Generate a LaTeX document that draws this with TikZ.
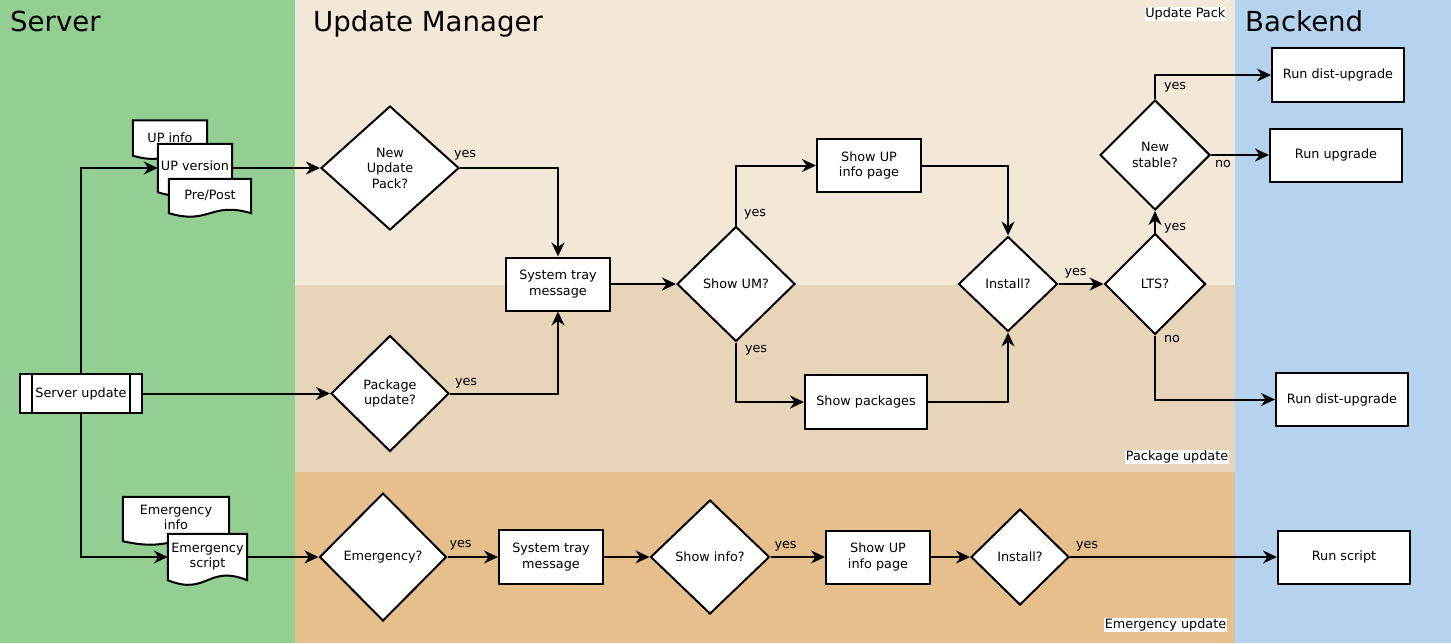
\documentclass[tikz,border=0pt]{standalone}
\usepackage{fontspec}
\setmainfont{DejaVu Sans}
\usetikzlibrary{shapes.geometric,arrows.meta,calc}
\pgfdeclarelayer{bg}
\pgfdeclarelayer{docs}
\pgfsetlayers{bg,docs,main}
\definecolor{cserver}{HTML}{93CF93}
\definecolor{cpack}{HTML}{F3E7D7}
\definecolor{cpkg}{HTML}{E8D4B8}
\definecolor{cemer}{HTML}{E7BF8C}
\definecolor{cback}{HTML}{B5D3EE}
\newcommand\nfont{\fontsize{12.8}{15.5}\selectfont}
\newcommand\tfont{\fontsize{27.6}{32}\selectfont}
\newcommand\docshape[2]{%
  \begin{pgfonlayer}{docs}
  \filldraw[fill=white, line width=2pt] (#1.north west) -- (#1.north east) -- (#1.south east)
    .. controls ($(#1.south)+(0,-#2)$) and ($(#1.south)+(0,#2)$) .. (#1.south west) -- cycle;
  \end{pgfonlayer}}
\newcommand\tl[2]{\begin{tabular}{@{}c@{}}#1\\#2\end{tabular}}
\begin{document}
\begin{tikzpicture}[x=1pt,y=-1pt,
  box/.style={draw, fill=white, line width=2pt, align=center, inner sep=1pt, font=\nfont},
  rbox/.style 2 args={box, minimum width=#1pt, minimum height=#2pt},
  dia/.style 2 args={shape=diamond, draw, fill=white, line width=2pt, minimum width=#1pt,
    minimum height=#2pt, inner sep=0pt, align=center, font=\nfont},
  docbox/.style 2 args={minimum width=#1pt, minimum height=#2pt, inner sep=0pt, align=center, font=\nfont},
  sproc/.style={box, minimum width=122pt, minimum height=39pt,
    path picture={
      \draw[line width=2pt] ([xshift=12pt]path picture bounding box.north west) -- ([xshift=12pt]path picture bounding box.south west);
      \draw[line width=2pt] ([xshift=-12pt]path picture bounding box.north east) -- ([xshift=-12pt]path picture bounding box.south east);}},
  arr/.style={line width=2pt, -{Stealth[length=14pt,width=13pt,inset=4.5pt]}},
  lbl/.style={font=\nfont, inner sep=0pt, anchor=base west},
  reglbl/.style={font=\nfont, fill=white, inner sep=0.6pt, anchor=north east},
  title/.style={font=\tfont, inner sep=0pt, anchor=base west}]
\useasboundingbox (0,0) rectangle (1451,643);
\begin{pgfonlayer}{bg}
  \fill[cserver] (0,0) rectangle (295,643);
  \fill[cpack] (295,0) rectangle (1235,285);
  \fill[cpkg] (295,285) rectangle (1235,472);
  \fill[cemer] (295,472) rectangle (1235,643);
  \fill[cback] (1235,0) rectangle (1451,643);
\end{pgfonlayer}

% titles and region labels
\node[title] (tserver) at (10,31) {Server};
\node[title] (tum) at (313,31) {Update Manager};
\node[title] (tback) at (1245,31.5) {Backend};
\node[reglbl] (lpack) at (1226,7) {Update Pack};
\node[reglbl] (lpkg) at (1229,450) {Package update};
\node[reglbl] (lemer) at (1227,618) {Emergency update};

% server column
\node[docbox={74}{35}] (upinfo) at (170,138) {\raisebox{1pt}{UP info}};
\docshape{upinfo}{11}
\node[docbox={74}{48}] (upver) at (195,168) {\raisebox{5pt}{UP version}};
\docshape{upver}{12}
\node[docbox={82}{34}] (prepost) at (210,196) {\raisebox{2pt}{Pre/Post}};
\docshape{prepost}{12}
\node[sproc] (su) at (81,393.5) {Server update};
\node[docbox={106}{44}] (eminfo) at (176,519) {\raisebox{4pt}{\tl{Emergency}{info}}};
\docshape{eminfo}{12}
\node[docbox={79}{46}] (emscript) at (207.5,557) {\raisebox{4pt}{\tl{Emergency}{script}}};
\docshape{emscript}{16}

% update manager
\node[dia={138}{124}] (nup) at (390,168) {New\\Update\\Pack?};
\node[dia={118}{116}] (pu) at (390,393.5) {Package\\update?};
\node[dia={127}{128}] (em) at (383,557) {Emergency?};
\node[rbox={104}{53}] (stm1) at (558,284) {System tray\\message};
\node[dia={118}{115}] (sum) at (736,284) {Show UM?};
\node[rbox={104}{53}] (suip1) at (869,165.5) {Show UP\\info page};
\node[rbox={122}{54}] (sp) at (866,402) {Show packages};
\node[dia={99}{95}] (i1) at (1008,284) {Install?};
\node[dia={101}{101}] (lts) at (1155,284) {LTS?};
\node[dia={110}{110}] (ns) at (1155,155) {New\\stable?};
\node[rbox={104}{54}] (stm2) at (551,557) {System tray\\message};
\node[dia={119}{114}] (si) at (710,557) {Show info?};
\node[rbox={104}{53}] (suip2) at (878,557) {Show UP\\info page};
\node[dia={98}{96}] (i2) at (1020,557) {Install?};

% backend
\node[rbox={132}{54}] (rdu1) at (1338,75) {Run dist-upgrade};
\node[rbox={132}{53}] (ru) at (1336,155) {Run upgrade};
\node[rbox={132}{53}] (rdu2) at (1342,399.5) {Run dist-upgrade};
\node[rbox={132}{53}] (rs) at (1344,557) {Run script};

% connectors
\draw[arr] (su.north) |- (upver.west);
\draw[arr] (upver.east) -- (nup.west);
\draw[arr] (su.east) -- (pu.west);
\draw[arr] (su.south) |- (emscript.west);
\draw[arr] (emscript.east) -- (em.west);
\draw[arr] (nup.east) -| node[lbl, pos=0, xshift=-7pt, yshift=11pt] (y1) {yes} (stm1.north);
\draw[arr] (pu.east) -| node[lbl, pos=0, xshift=4pt, yshift=8pt] (y2) {yes} (stm1.south);
\draw[arr] (stm1.east) -- (sum.west);
\draw[arr] (sum.north) |- node[lbl, pos=0, xshift=7pt, yshift=9pt] (y3) {yes} (suip1.west);
\draw[arr] (sum.south) |- node[lbl, pos=0, xshift=8pt, yshift=-10pt] (y4) {yes} (sp.west);
\draw[arr] (suip1.east) -| (i1.north);
\draw[arr] (sp.east) -| (i1.south);
\draw[arr] (i1.east) -- node[lbl, pos=0, xshift=5pt, yshift=9pt] (y5) {yes} (lts.west);
\draw[arr] (lts.north) -- node[lbl, pos=0, xshift=8pt, yshift=2pt] (y6) {yes} (ns.south);
\draw[arr] (ns.north) |- node[lbl, pos=0, xshift=8pt, yshift=10pt] (y7) {yes} (rdu1.west);
\draw[arr] (ns.east) -- node[lbl, pos=0, xshift=3pt, yshift=-12pt] (n1) {no} (ru.west);
\draw[arr] (lts.south) |- node[lbl, pos=0, xshift=8pt, yshift=-7pt] (n2) {no} (rdu2.west);
\draw[arr] (em.east) -- node[lbl, pos=0, xshift=1pt, yshift=10pt] (y8) {yes} (stm2.west);
\draw[arr] (stm2.east) -- (si.west);
\draw[arr] (si.east) -- node[lbl, pos=0, xshift=3pt, yshift=9pt] (y9) {yes} (suip2.west);
\draw[arr] (suip2.east) -- (i2.west);
\draw[arr] (i2.east) -- node[lbl, pos=0, xshift=5pt, yshift=9pt] (y10) {yes} (rs.west);
\end{tikzpicture}
\end{document}
